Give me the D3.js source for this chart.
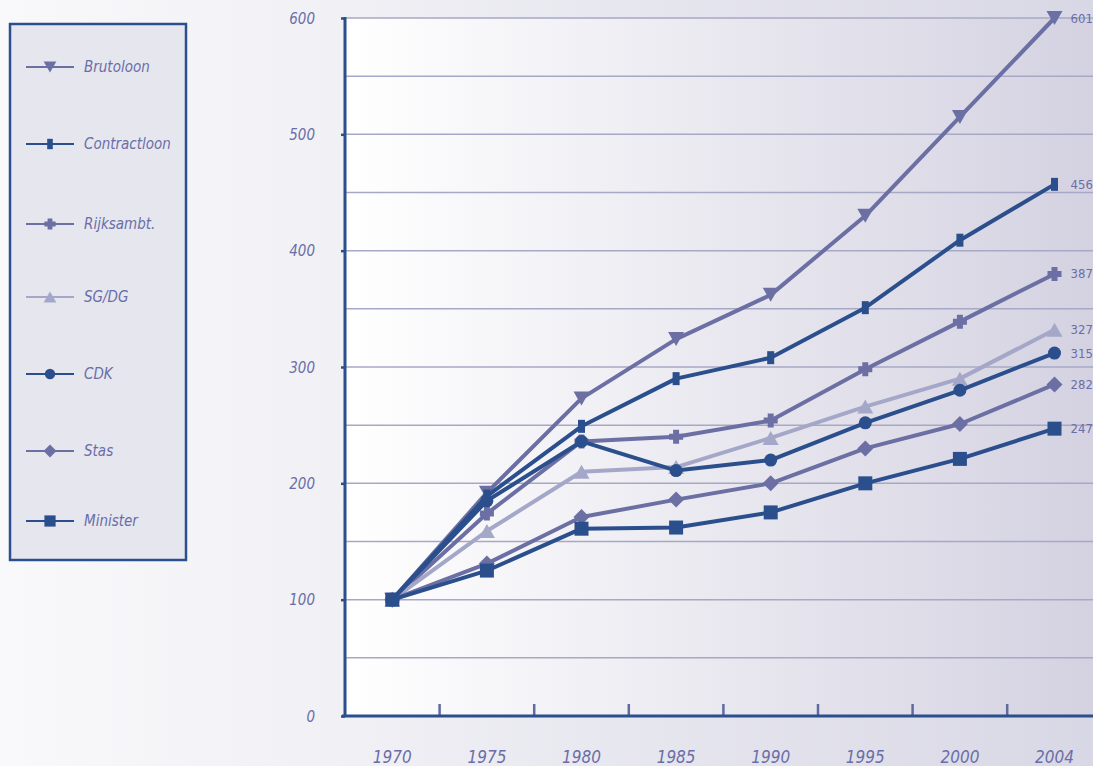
<!DOCTYPE html>
<html><head><meta charset="utf-8">
<script src="https://cdn.jsdelivr.net/npm/d3@7"></script>
<style>
html,body{margin:0;padding:0;}
body{width:1093px;height:766px;overflow:hidden;}
text{font-family:"Liberation Sans Narrow","DejaVu Sans Condensed",sans-serif;}
</style></head>
<body><svg id="c" width="1093" height="766"></svg>
<script>
const years = ["1970","1975","1980","1985","1990","1995","2000","2004"];
const seriesNames = ["Brutoloon","Contractloon","Rijksambt.","SG/DG","CDK","Stas","Minister"];
const brutoloon    = [100,192,273,324,362,430,515,600];
const contractloon = [100,189,249,290,308,351,409,457];
const rijksambt    = [100,174,236,240,254,298,339,380];
const sgdg         = [100,159,210,214,239,266,290,332];
const cdk          = [100,185,236,211,220,252,280,312];
const stas         = [100,131,171,186,200,230,251,285];
const minister     = [100,125,161,162,175,200,221,247];
const endLabels    = ["601","456","387","327","315","282","247"];
const yTicks = [0,100,200,300,400,500,600];

const DARK="#2b4f8c", MID="#6b6fa3", LIGHT="#a5a7c9", TXT="#6a6ea8";
const series = [
  {name:seriesNames[0], values:brutoloon, color:MID, shape:"tdown"},
  {name:seriesNames[1], values:contractloon, color:DARK, shape:"bar"},
  {name:seriesNames[2], values:rijksambt, color:MID, shape:"plus"},
  {name:seriesNames[3], values:sgdg, color:LIGHT, shape:"tup"},
  {name:seriesNames[4], values:cdk, color:DARK, shape:"circle"},
  {name:seriesNames[5], values:stas, color:MID, shape:"diamond"},
  {name:seriesNames[6], values:minister, color:DARK, shape:"square"}
];

const svg = d3.select("#c");
const defs = svg.append("defs");
const pg = defs.append("linearGradient").attr("id","pageG").attr("x1","0").attr("x2","1").attr("y1","0").attr("y2","0");
pg.append("stop").attr("offset","0").attr("stop-color","#f9f9fb");
pg.append("stop").attr("offset","0.32").attr("stop-color","#f0f0f5");
pg.append("stop").attr("offset","1").attr("stop-color","#d8d7e5");
const plg = defs.append("linearGradient").attr("id","plotG").attr("x1","0").attr("x2","1").attr("y1","0").attr("y2","0");
plg.append("stop").attr("offset","0").attr("stop-color","#ffffff");
plg.append("stop").attr("offset","1").attr("stop-color","#d4d2e1");

svg.append("rect").attr("width",1093).attr("height",766).attr("fill","url(#pageG)");

const x0 = 345, y0 = 716, yTop = 18;
const x = d3.scaleBand().domain(years).range([x0, x0 + 8*94.6]).padding(0);
const y = d3.scaleLinear().domain([0,600]).range([y0, yTop]);
const cx = d => x(d) + x.bandwidth()/2;

svg.append("rect").attr("x",x0).attr("y",yTop).attr("width",1093-x0).attr("height",y0-yTop).attr("fill","url(#plotG)");

const grid = d3.range(50, 601, 50);
svg.append("g").selectAll("line").data(grid).join("line")
  .attr("x1",x0).attr("x2",1093).attr("y1",d=>y(d)).attr("y2",d=>y(d))
  .attr("stroke","#a7a8c6").attr("stroke-width",1.5);

const yAxis = svg.append("g").attr("transform",`translate(${x0},0)`)
  .call(d3.axisLeft(y).tickValues(yTicks).tickSize(4).tickFormat(d3.format("d")));
yAxis.select(".domain").remove();
yAxis.selectAll(".tick line").attr("stroke",DARK).attr("stroke-width",2.5);
yAxis.selectAll(".tick text").attr("x",-30).attr("fill",TXT).attr("font-size",15).attr("font-style","italic").attr("dy","0.35em");
svg.append("line").attr("x1",x0).attr("x2",x0).attr("y1",yTop-1).attr("y2",y0+1).attr("stroke",DARK).attr("stroke-width",3);

const xAxis = svg.append("g").attr("transform",`translate(0,${y0})`)
  .call(d3.axisBottom(x).tickSize(0).tickPadding(0));
xAxis.select(".domain").remove();
xAxis.selectAll(".tick text").attr("y",47).attr("dy","0").attr("fill",TXT).attr("font-size",17).attr("font-style","italic");
svg.append("g").selectAll("line").data(years.slice(1)).join("line")
  .attr("x1",d=>x(d)).attr("x2",d=>x(d)).attr("y1",y0).attr("y2",y0-12)
  .attr("stroke","#5f6aa0").attr("stroke-width",2.5);
svg.append("line").attr("x1",x0-3).attr("x2",1093).attr("y1",y0).attr("y2",y0).attr("stroke",DARK).attr("stroke-width",3);

function drawMarker(g, shape, color, px, py, s){
  s = s||1;
  if(shape==="tdown") g.append("path").attr("d",`M${px-8*s},${py-7*s}L${px+8*s},${py-7*s}L${px},${py+7*s}Z`).attr("fill",color);
  else if(shape==="tup") g.append("path").attr("d",`M${px-8*s},${py+7*s}L${px+8*s},${py+7*s}L${px},${py-7*s}Z`).attr("fill",color);
  else if(shape==="bar") g.append("rect").attr("x",px-3.5*s).attr("y",py-6.5*s).attr("width",7*s).attr("height",13*s).attr("fill",color);
  else if(shape==="plus") g.append("path").attr("d",`M${px-3*s},${py-7*s}h${6*s}v${4*s}h${4*s}v${6*s}h${-4*s}v${4*s}h${-6*s}v${-4*s}h${-4*s}v${-6*s}h${4*s}Z`).attr("fill",color);
  else if(shape==="circle") g.append("circle").attr("cx",px).attr("cy",py).attr("r",6.5*s).attr("fill",color);
  else if(shape==="diamond") g.append("path").attr("d",`M${px},${py-8*s}L${px+8*s},${py}L${px},${py+8*s}L${px-8*s},${py}Z`).attr("fill",color);
  else if(shape==="square") g.append("rect").attr("x",px-7*s).attr("y",py-7*s).attr("width",14*s).attr("height",14*s).attr("fill",color);
}

const line = d3.line().x((d,i)=>cx(years[i])).y(d=>y(d));
series.forEach(s=>{
  const g = svg.append("g");
  g.append("path").attr("d",line(s.values)).attr("fill","none").attr("stroke",s.color).attr("stroke-width",4).attr("stroke-linejoin","round");
  s.values.forEach((v,i)=>drawMarker(g, s.shape, s.color, cx(years[i]), y(v), 1));
});

svg.append("g").selectAll("text").data(series).join("text")
  .attr("x",cx(years[7])+16).attr("y",(d)=>y(d.values[7])).attr("dy","0.35em")
  .attr("fill",TXT).attr("font-size",13).text((d,i)=>endLabels[i]);

const lg = svg.append("g");
lg.append("rect").attr("x",10).attr("y",24).attr("width",176).attr("height",536)
  .attr("fill","#e6e6ef").attr("stroke",DARK).attr("stroke-width",2.5);
const legYs = [67,144,224,297,374,451,521];
series.forEach((s,i)=>{
  const yy = legYs[i];
  lg.append("line").attr("x1",26).attr("x2",74).attr("y1",yy).attr("y2",yy).attr("stroke",s.color).attr("stroke-width",2);
  drawMarker(lg, s.shape, s.color, 50, yy, 0.8);
  lg.append("text").attr("x",84).attr("y",yy).attr("dy","0.35em").attr("fill",TXT).attr("font-size",15).attr("font-style","italic").text(s.name);
});
</script></body></html>
